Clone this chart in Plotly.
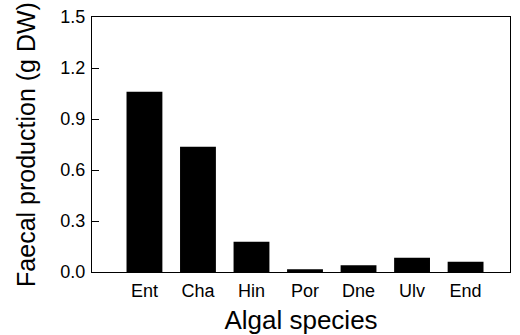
import plotly.graph_objects as go

species = ["Ent", "Cha", "Hin", "Por", "Dne", "Ulv", "End"]
faecal = [1.06, 0.737, 0.178, 0.016, 0.04, 0.084, 0.06]
y_ticks = [0.0, 0.3, 0.6, 0.9, 1.2, 1.5]
y_tick_labels = ["0.0", "0.3", "0.6", "0.9", "1.2", "1.5"]

fig = go.Figure(go.Bar(x=species, y=faecal, marker=dict(color="black", line=dict(width=0))))

font = "Liberation Sans, Arial, Helvetica, sans-serif"
fig.update_layout(
    width=520, height=335,
    margin=dict(l=92, r=10, t=17, b=63),
    paper_bgcolor="white", plot_bgcolor="white",
    bargap=0.33,
    showlegend=False,
    font=dict(family=font, color="black"),
)
fig.update_xaxes(
    range=[-0.98, 6.83], automargin=False,
    showline=True, linecolor="black", linewidth=1, mirror=True,
    ticks="", showgrid=False, zeroline=False,
    tickfont=dict(size=18), ticklabelstandoff=2,
    title=dict(text="Algal species", font=dict(size=26), standoff=11),
)
fig.update_yaxes(
    range=[0, 1.5], automargin=False,
    tickvals=y_ticks, ticktext=y_tick_labels,
    showline=True, linecolor="black", linewidth=1, mirror=True,
    ticks="inside", ticklen=7, tickcolor="black",
    showgrid=False, zeroline=False,
    tickfont=dict(size=18), ticklabelstandoff=2,
    title=dict(text="Faecal production (g DW)", font=dict(size=25), standoff=17),
)
fig.write_html("out.html")
